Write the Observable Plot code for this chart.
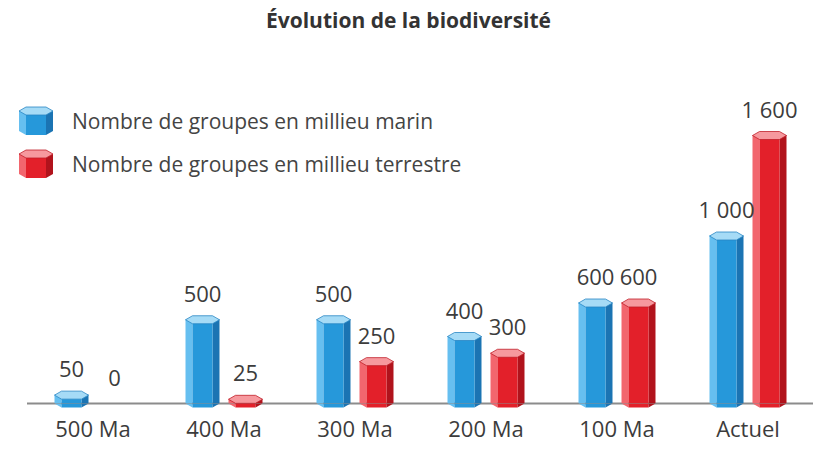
<!DOCTYPE html>
<html>
<head>
<meta charset="utf-8">
<script src="https://cdn.jsdelivr.net/npm/d3@7"></script>
<script src="https://cdn.jsdelivr.net/npm/@observablehq/plot@0.6"></script>
<style>
  html, body { margin: 0; padding: 0; background: #ffffff; }
  #wrap { position: relative; width: 825px; height: 470px; font-family: "Open Sans", sans-serif; color: #3c3c3c; }
  #title { position: absolute; left: 0; top: 5px; width: 817px; text-align: center; font-weight: 700; font-size: 21px; line-height: 30px; color: #333; }
  #chart { position: absolute; left: 0; top: 42px; }
  #legend { position: absolute; left: 18px; top: 99px; }
  .row { display: flex; align-items: center; height: 43px; }
  .row svg { flex: none; }
  .row span { margin-left: 18px; font-size: 21px; color: #444; white-space: nowrap; }
</style>
</head>
<body>
<div id="wrap">
  <div id="title">Évolution de la biodiversité</div>
  <div id="chart"></div>
  <div id="legend"></div>
</div>
<script>
// ---- data ----
const periods = ["500 Ma", "400 Ma", "300 Ma", "200 Ma", "100 Ma", "Actuel"];
const marin = [50, 500, 500, 400, 600, 1000];
const terrestre = [0, 25, 250, 300, 600, 1600];
const milieux = ["marin", "terrestre"];
const legendLabels = ["Nombre de groupes en millieu marin", "Nombre de groupes en millieu terrestre"];

const fmt = d3.formatLocale({decimal: ",", thousands: " ", grouping: [3], currency: ["", " €"]}).format(",");

const data = periods.flatMap((p, i) => [
  {period: p, milieu: "marin", value: marin[i]},
  {period: p, milieu: "terrestre", value: terrestre[i]}
]);

const palette = {
  marin:     {left: "#66bff0", mid: "#2698da", right: "#1b74b3", cap: "#a6dbf6", edge: "#2a86c4"},
  terrestre: {left: "#f2666e", mid: "#e3202a", right: "#b1131c", cap: "#f6999e", edge: "#c0202a"}
};

// prism geometry (pixels)
const HW = 17, FACE = 7, CAPH = 4;
const poly = pts => ({draw(ctx) { ctx.moveTo(pts[0][0], pts[0][1]); for (let k = 1; k < pts.length; ++k) ctx.lineTo(pts[k][0], pts[k][1]); ctx.closePath(); }});
const capSym = poly([[-HW, 0], [-HW + FACE, -CAPH], [HW - FACE, -CAPH], [HW, 0], [HW - FACE, CAPH], [-HW + FACE, CAPH]]);
const botLeft = poly([[-HW, 0], [-HW + FACE, 0], [-HW + FACE, CAPH]]);
const botMid = poly([[-HW + FACE, 0], [HW - FACE, 0], [HW - FACE, CAPH], [-HW + FACE, CAPH]]);
const botRight = poly([[HW - FACE, 0], [HW, 0], [HW - FACE, CAPH]]);

const marks = [Plot.ruleY([0], {stroke: "#8c8c8c", strokeWidth: 2})];
for (const m of milieux) {
  const c = palette[m];
  const rows = data.filter(d => d.milieu === m && d.value > 0);
  const base = {fx: "period", x: "milieu"};
  marks.push(
    Plot.dot(rows, {...base, y: d => 0, symbol: botLeft, fill: c.left, stroke: "none"}),
    Plot.dot(rows, {...base, y: d => 0, symbol: botMid, fill: c.mid, stroke: "none"}),
    Plot.dot(rows, {...base, y: d => 0, symbol: botRight, fill: c.right, stroke: "none"}),
    Plot.ruleX(rows, {...base, y1: d => 0, y2: "value", stroke: c.left, strokeWidth: FACE, dx: -(HW - FACE / 2)}),
    Plot.ruleX(rows, {...base, y1: d => 0, y2: "value", stroke: c.right, strokeWidth: FACE, dx: (HW - FACE / 2)}),
    Plot.ruleX(rows, {...base, y1: d => 0, y2: "value", stroke: c.mid, strokeWidth: 2 * (HW - FACE)}),
    Plot.dot(rows, {...base, y: "value", symbol: capSym, fill: c.cap, stroke: c.edge, strokeWidth: 0.8})
  );
}
marks.push(
  Plot.text(data, {fx: "period", x: "milieu", y: "value", text: d => fmt(d.value), dy: -25, fontSize: 22, fill: "#3c3c3c", lineAnchor: "middle"}),
  Plot.axisFx({anchor: "bottom", tickSize: 0, tickPadding: 18, fontSize: 22, label: null, color: "#3c3c3c"})
);

const chart = Plot.plot({
  width: 825,
  height: 428,
  marginLeft: 26,
  marginRight: 11,
  marginTop: 93,
  marginBottom: 67,
  style: {fontFamily: "Open Sans", background: "transparent", color: "#3c3c3c", overflow: "visible"},
  fx: {domain: periods, padding: 0, label: null},
  x: {type: "point", domain: milieux, padding: 0.5, inset: 22, axis: null},
  y: {domain: [0, 1600], axis: null},
  marks
});
document.getElementById("chart").append(chart);

// legend
function swatch(c) {
  const ns = "http://www.w3.org/2000/svg";
  const s = document.createElementNS(ns, "svg");
  s.setAttribute("width", 36); s.setAttribute("height", 30);
  const add = (pts, fill, stroke) => {
    const p = document.createElementNS(ns, "polygon");
    p.setAttribute("points", pts);
    p.setAttribute("fill", fill);
    if (stroke) { p.setAttribute("stroke", stroke); p.setAttribute("stroke-width", 0.8); }
    s.append(p);
  };
  add("1,5 8,5 8,29 1,25", c.left);
  add("8,5 28,5 28,29 8,29", c.mid);
  add("28,5 35,5 35,25 28,29", c.right);
  add("1,5 8,1 28,1 35,5 28,9 8,9", c.cap, c.edge);
  return s;
}
const legend = document.getElementById("legend");
milieux.forEach((m, i) => {
  const row = document.createElement("div");
  row.className = "row";
  row.append(swatch(palette[m]));
  const t = document.createElement("span");
  t.textContent = legendLabels[i];
  row.append(t);
  legend.append(row);
});
</script>
</body>
</html>
